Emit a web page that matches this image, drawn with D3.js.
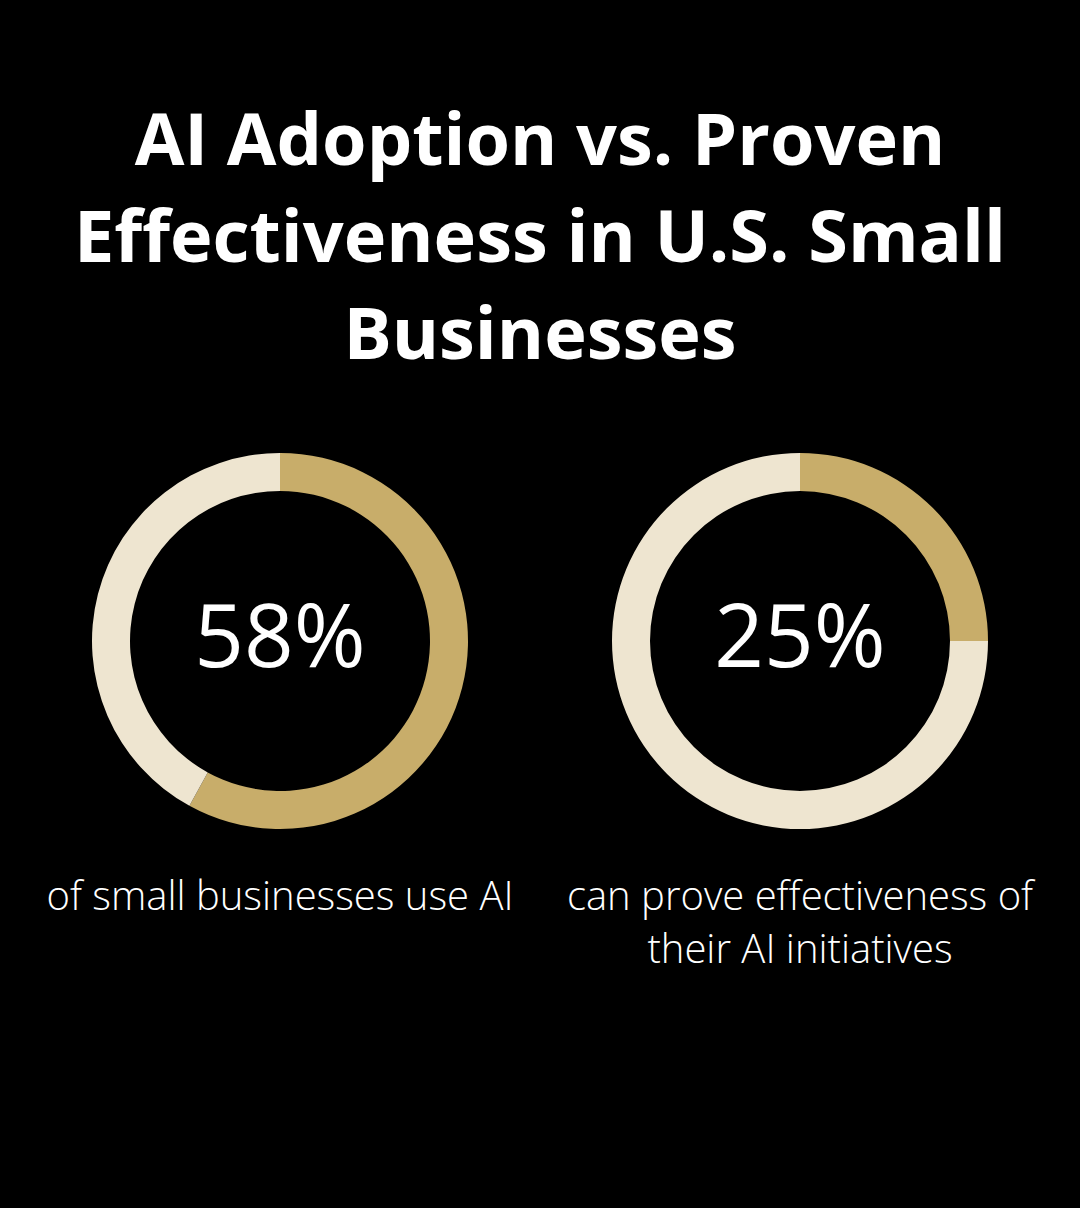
<!DOCTYPE html>
<html>
<head>
<meta charset="utf-8">
<script src="https://cdn.jsdelivr.net/npm/d3@7"></script>
<style>
  html, body { margin: 0; padding: 0; background: #000; }
  svg { display: block; }
</style>
</head>
<body>
<svg id="chart" width="1080" height="1208"></svg>
<script>
const titleLines = ["AI Adoption vs. Proven", "Effectiveness in U.S. Small", "Businesses"];
const categories = ["of small businesses use AI", "can prove effectiveness of their AI initiatives"];
const captionLines = [["of small businesses use AI"], ["can prove effectiveness of", "their AI initiatives"]];
const values = [58, 25];
const valueLabels = ["58%", "25%"];

const W = 1080, H = 1208;
const svg = d3.select("#chart");
svg.append("rect").attr("width", W).attr("height", H).attr("fill", "#000");

const gold = "#c8ad6a", cream = "#eee5d0";

// Title
const title = svg.append("text")
  .attr("text-anchor", "middle")
  .attr("fill", "#fff")
  .attr("font-family", "'Open Sans', sans-serif")
  .attr("font-weight", 700)
  .attr("font-size", 72);
titleLines.forEach((l, i) => {
  title.append("tspan").attr("x", W / 2).attr("y", 165 + i * 97).text(l);
});

const x = d3.scalePoint().domain(categories).range([280, 800]);
const cy = 641;
const outerR = 188, innerR = 150;
const pie = d3.pie().sort(null).value(d => d);
const arc = d3.arc().innerRadius(innerR).outerRadius(outerR);

categories.forEach((c, i) => {
  const g = svg.append("g").attr("transform", `translate(${x(c)},${cy})`);
  g.selectAll("path")
    .data(pie([values[i], 100 - values[i]]))
    .join("path")
    .attr("d", arc)
    .attr("fill", (d, j) => j === 0 ? gold : cream);
  g.append("text")
    .attr("text-anchor", "middle")
    .attr("y", 26)
    .attr("fill", "#fff")
    .attr("font-family", "'Open Sans', sans-serif")
    .attr("font-weight", 400)
    .attr("font-size", 87)
    .text(valueLabels[i]);
  const cap = svg.append("text")
    .attr("text-anchor", "middle")
    .attr("fill", "#fff")
    .attr("font-family", "'Open Sans', sans-serif")
    .attr("font-weight", 300)
    .attr("font-size", 40);
  captionLines[i].forEach((l, k) => {
    cap.append("tspan").attr("x", x(c)).attr("y", 910 + k * 53).text(l);
  });
});
</script>
</body>
</html>
